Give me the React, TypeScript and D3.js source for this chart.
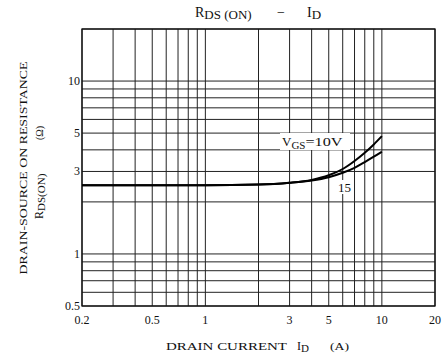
import * as d3 from 'd3';

// drain current (A)
const currents = [0.2, 0.5, 1, 2, 3, 4, 5, 6, 7, 8, 9, 10];
// R_DS(ON) in ohms for each gate voltage
const rdsVgs10 = [2.5, 2.5, 2.5, 2.52, 2.58, 2.68, 2.85, 3.1, 3.45, 3.85, 4.3, 4.8];
const rdsVgs15 = [2.5, 2.5, 2.5, 2.52, 2.58, 2.66, 2.78, 2.95, 3.15, 3.4, 3.65, 3.9];

const xTickLabels = [0.2, 0.5, 1, 3, 5, 10, 20];
const yTickLabels = [0.5, 1, 3, 5, 10];
const xGrid = [0.2, 0.3, 0.4, 0.5, 0.6, 0.7, 0.8, 0.9, 1, 2, 3, 4, 5, 6, 7, 8, 9, 10, 20];
const yGrid = [0.5, 0.6, 0.7, 0.8, 0.9, 1, 2, 3, 4, 5, 6, 7, 8, 9, 10, 20];

const W = 442;
const H = 357;
const FONT = '"Liberation Serif", "DejaVu Serif", Times, serif';

export default function App() {
  const x = d3.scaleLog().domain([0.2, 20]).range([82, 435]);
  const y = d3.scaleLog().domain([0.5, 20]).range([306, 29]);

  const line = d3
    .line<number>()
    .x((_, i) => x(currents[i]))
    .y((d) => y(d))
    .curve(d3.curveMonotoneX);

  return (
    <svg
      width={W}
      height={H}
      style={{ position: 'absolute', left: 0, top: 0, background: '#fff' }}
      fontFamily={FONT}
    >
      {/* title */}
      <text y={17} fontSize={14} fill="#111">
        <tspan x={195}>R</tspan>
        <tspan dy={2} fontSize={13}>DS (ON)</tspan>
        <tspan x={277} dy={-2}>−</tspan>
        <tspan x={307}>I</tspan>
        <tspan dy={2} fontSize={13}>D</tspan>
      </text>

      {/* grid */}
      <g stroke="#222" strokeWidth={1}>
        {xGrid.map((v) => (
          <line key={'x' + v} x1={x(v)} x2={x(v)} y1={y(20)} y2={y(0.5)} />
        ))}
        {yGrid.map((v) => (
          <line key={'y' + v} x1={x(0.2)} x2={x(20)} y1={y(v)} y2={y(v)} />
        ))}
      </g>
      <rect
        x={x(0.2)}
        y={y(20)}
        width={x(20) - x(0.2)}
        height={y(0.5) - y(20)}
        fill="none"
        stroke="#111"
        strokeWidth={1.3}
      />

      {/* curves */}
      <path d={line(rdsVgs10) || ''} fill="none" stroke="#000" strokeWidth={2} />
      <path d={line(rdsVgs15) || ''} fill="none" stroke="#000" strokeWidth={2} />

      {/* curve labels */}
      <rect x={280} y={133} width={70} height={17} fill="#fff" />
      <text y={146} fontSize={13} fill="#111">
        <tspan x={282}>V</tspan>
        <tspan dy={3} fontSize={11}>GS</tspan>
        <tspan dy={-3} textLength={37} lengthAdjust="spacingAndGlyphs">=10V</tspan>
      </text>
      <rect x={336} y={180} width={17} height={14} fill="#fff" />
      <text x={338} y={192} fontSize={13} fill="#111">15</text>

      {/* x tick labels */}
      {xTickLabels.map((v) => (
        <text key={'xt' + v} x={x(v)} y={324} fontSize={12} textAnchor="middle" fill="#111">
          {v}
        </text>
      ))}
      {/* y tick labels */}
      {yTickLabels.map((v) => (
        <text key={'yt' + v} x={80} y={y(v) + 4} fontSize={12} textAnchor="end" fill="#111">
          {v}
        </text>
      ))}

      {/* x axis title */}
      <text y={350} fontSize={11} fill="#111">
        <tspan x={166} textLength={121} lengthAdjust="spacingAndGlyphs">DRAIN CURRENT</tspan>
        <tspan x={297} fontSize={12}>I</tspan>
        <tspan dy={2} fontSize={11}>D</tspan>
        <tspan x={330} dy={-2} textLength={19} lengthAdjust="spacingAndGlyphs">(A)</tspan>
      </text>

      {/* y axis title */}
      <g transform="translate(27,0) rotate(-90)">
        <text x={-168} y={0} fontSize={11} textAnchor="middle" fill="#111" textLength={213} lengthAdjust="spacingAndGlyphs">
          DRAIN-SOURCE ON RESISTANCE
        </text>
        <text y={16} fontSize={12} fill="#111">
          <tspan x={-219}>R</tspan>
          <tspan dy={2} fontSize={11}>DS(ON)</tspan>
          <tspan x={-140} dy={-2} fontSize={10}>(Ω)</tspan>
        </text>
      </g>
    </svg>
  );
}
